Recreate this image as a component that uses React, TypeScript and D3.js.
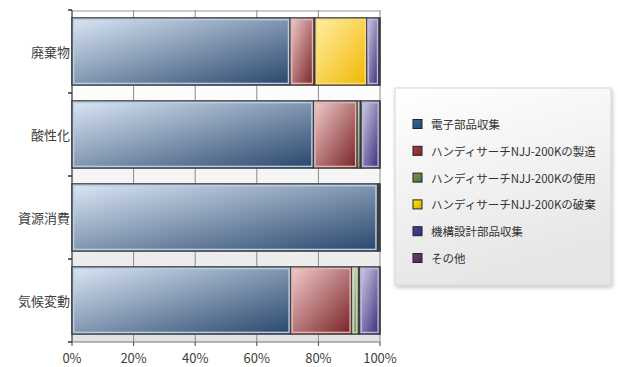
import React from 'react';
import * as d3 from 'd3';

const categories = ['廃棄物', '酸性化', '資源消費', '気候変動'];
const seriesNames = [
  '電子部品収集',
  'ハンディサーチNJJ-200Kの製造',
  'ハンディサーチNJJ-200Kの使用',
  'ハンディサーチNJJ-200Kの破棄',
  '機構設計部品収集',
  'その他',
];
const electronic = [70.8, 78.4, 99.2, 71.0];
const manufacture = [7.8, 14.2, 0.4, 19.8];
const usage = [0.3, 1.0, 0.1, 2.2];
const disposal = [16.8, 0.3, 0.0, 0.4];
const mechanical = [4.0, 6.0, 0.3, 6.5];
const other = [0.3, 0.1, 0.0, 0.1];
const xTicks = [0, 0.2, 0.4, 0.6, 0.8, 1];

const seriesValues = [electronic, manufacture, usage, disposal, mechanical, other];

const palette = [
  { light: '#dbe7f5', dark: '#28466c', inner: '#b9cde6', sw: '#2d5384' },
  { light: '#f3cfcf', dark: '#782022', inner: '#e2b4b4', sw: '#8e3032' },
  { light: '#e2ebd8', dark: '#627d49', inner: '#c9d8bb', sw: '#5f7c44' },
  { light: '#fff0a8', dark: '#f2b600', inner: '#f8dc7a', sw: '#f5c000' },
  { light: '#d6d2e8', dark: '#36287a', inner: '#bcb6da', sw: '#3b3584' },
  { light: '#dccbe0', dark: '#5a2a62', inner: '#c4aacb', sw: '#5e2e66' },
];

const W = 618;
const H = 367;
const plotLeft = 72;
const plotRight = 380;
const plotTop = 10;
const plotBottom = 342;
const FONT = '"Noto Sans CJK JP", "Noto Sans", sans-serif';

export default function App() {
  const x = d3.scaleLinear().domain([0, 1]).range([plotLeft, plotRight]);
  const y = d3.scaleBand<string>().domain(categories).range([plotTop, plotBottom]).padding(0);
  const step = y.step();
  const barH = step * 0.807;
  const barOff = (step - barH) / 2;

  const table = categories.map((c, i) => {
    const row: any = { cat: c };
    seriesNames.forEach((s, j) => (row[s] = seriesValues[j][i]));
    return row;
  });
  const stack = d3.stack<any>().keys(seriesNames).offset(d3.stackOffsetExpand);
  const layers = stack(table);

  return (
    <svg
      width={W}
      height={H}
      style={{ position: 'fixed', left: 0, top: 0, background: '#fff' }}
      fontFamily={FONT}
    >
      <defs>
        <linearGradient id="plotbg" x1="0" y1="0" x2="0" y2="1">
          <stop offset="0" stopColor="#ffffff" />
          <stop offset="0.35" stopColor="#fbfbfb" />
          <stop offset="1" stopColor="#e3e3e3" />
        </linearGradient>
        {palette.map((p, i) => (
          <linearGradient key={i} id={`g${i}`} x1="0" y1="0" x2="1" y2="1">
            <stop offset="0" stopColor={p.light} />
            <stop offset="1" stopColor={p.dark} />
          </linearGradient>
        ))}
        {palette.map((p, i) => (
          <linearGradient key={'s' + i} id={`sw${i}`} x1="0" y1="0" x2="1" y2="1">
            <stop offset="0" stopColor={d3.color(p.sw)!.brighter(0.6).formatHex()} />
            <stop offset="1" stopColor={d3.color(p.sw)!.darker(0.4).formatHex()} />
          </linearGradient>
        ))}
        <linearGradient id="legbg" x1="0" y1="0" x2="0.3" y2="1">
          <stop offset="0" stopColor="#ffffff" />
          <stop offset="1" stopColor="#e6e6e6" />
        </linearGradient>
        <filter id="shadow" x="-10%" y="-10%" width="130%" height="130%">
          <feGaussianBlur in="SourceAlpha" stdDeviation="2" />
          <feOffset dx="1" dy="2" result="b" />
          <feComponentTransfer>
            <feFuncA type="linear" slope="0.25" />
          </feComponentTransfer>
          <feMerge>
            <feMergeNode />
            <feMergeNode in="SourceGraphic" />
          </feMerge>
        </filter>
      </defs>

      {/* plot background */}
      <rect x={plotLeft} y={plotTop} width={plotRight - plotLeft} height={plotBottom - plotTop} fill="url(#plotbg)" />

      {/* vertical gridlines */}
      {xTicks.map((t) => (
        <line key={t} x1={x(t)} x2={x(t)} y1={plotTop} y2={plotBottom} stroke="#8a8a8a" strokeWidth={1} />
      ))}
      <line x1={plotLeft} x2={plotRight} y1={plotTop + 1} y2={plotTop + 1} stroke="#9a9a9a" />

      {/* bars */}
      {categories.map((c, ci) => {
        const by = y(c)! + barOff;
        return (
          <g key={c}>
            <rect x={x(0)} y={by} width={x(1) - x(0)} height={barH} fill="none" stroke="#5a5a5a" strokeWidth={1.5} />
            {layers.map((layer, li) => {
              const d = layer[ci];
              const x0 = x(d[0]);
              const x1 = x(d[1]);
              const w = x1 - x0;
              if (w <= 0.05) return null;
              return (
                <g key={li}>
                  <rect x={x0} y={by} width={w} height={barH} fill={`url(#g${li})`} stroke="#3a3a3a" strokeWidth={1} />
                  {w > 4 && (
                    <rect
                      x={x0 + 1.6}
                      y={by + 1.6}
                      width={w - 3.2}
                      height={barH - 3.2}
                      fill="none"
                      stroke={palette[li].inner}
                      strokeWidth={1.4}
                    />
                  )}
                </g>
              );
            })}
          </g>
        );
      })}

      {/* axes */}
      <line x1={plotLeft} x2={plotLeft} y1={plotTop} y2={plotBottom} stroke="#444" strokeWidth={1} />
      <line x1={plotLeft} x2={plotRight} y1={plotBottom} y2={plotBottom} stroke="#777" strokeWidth={1} />
      {[...categories.map((c) => y(c)!), plotBottom].map((v, i) => (
        <line key={i} x1={plotLeft - 4} x2={plotLeft} y1={v} y2={v} stroke="#333" strokeWidth={1.5} />
      ))}
      {xTicks.map((t) => (
        <line key={'t' + t} x1={x(t)} x2={x(t)} y1={plotBottom} y2={plotBottom + 4} stroke="#444" strokeWidth={1} />
      ))}
      {categories.map((c) => (
        <text
          key={'l' + c}
          x={plotLeft - 2}
          y={y(c)! + step / 2}
          textAnchor="end"
          dominantBaseline="central"
          fontSize={13}
          fill="#404040"
        >
          {c}
        </text>
      ))}
      {xTicks.map((t) => (
        <text key={'xl' + t} x={x(t)} y={357} textAnchor="middle" dominantBaseline="central" fontSize={13} fill="#404040">
          {d3.format('.0%')(t)}
        </text>
      ))}

      {/* legend */}
      <g filter="url(#shadow)">
        <rect x={395} y={88} width={216} height={197} fill="url(#legbg)" stroke="#d6d6d6" strokeWidth={1} />
      </g>
      {seriesNames.map((s, i) => {
        const cy = 124 + i * 26.8;
        return (
          <g key={'lg' + s}>
            <rect x={413} y={cy - 4.5} width={9} height={9} fill={`url(#sw${i})`} stroke="#222" strokeWidth={1} />
            <text x={431} y={cy} dominantBaseline="central" fontSize={11.5} fill="#333">
              {s}
            </text>
          </g>
        );
      })}
    </svg>
  );
}
